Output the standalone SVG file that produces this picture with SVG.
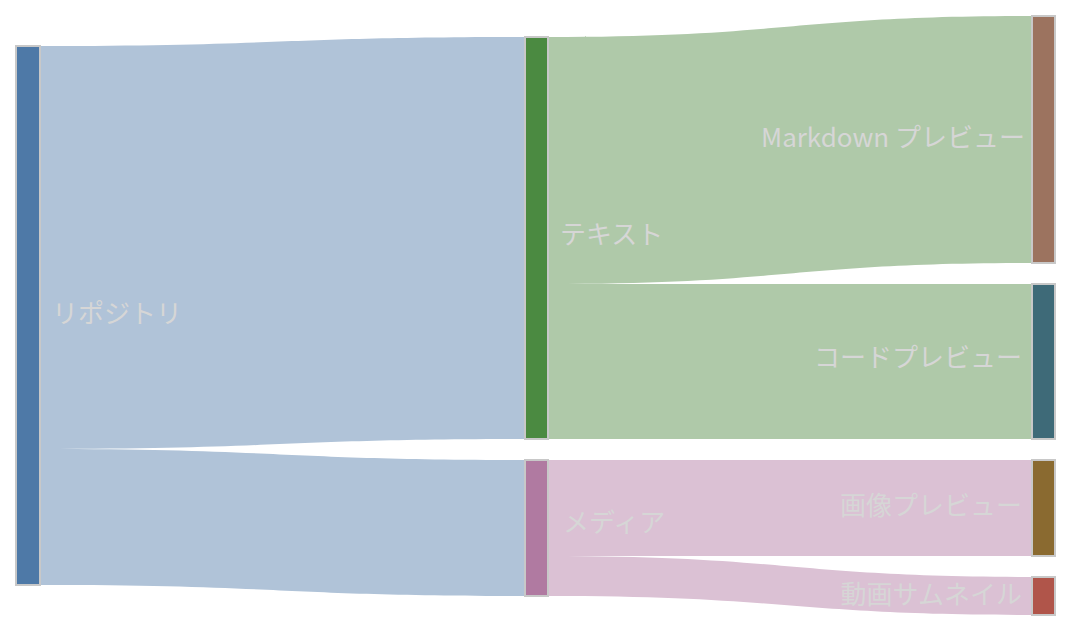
<svg xmlns="http://www.w3.org/2000/svg" width="1072" height="632" viewBox="0 0 1072 632">
<style>
.n{stroke:#c8c8c8;stroke-width:2}
.l{stroke:none}
text{font-family:"Noto Sans CJK JP","Noto Sans",sans-serif;font-size:26px;fill:#d6d6d6;dominant-baseline:middle}
.r{text-anchor:end}
</style>
<rect width="1072" height="632" fill="#fff"/>
<g id="links">
<path class="l" fill="#b0c3d8" d="M40,46 C282,46 282,37 525,37 L525,439 C282,439 282,449 40,449 Z"/>
<path class="l" fill="#b0c3d8" d="M40,449 C282,449 282,460 525,460 L525,596 C282,596 282,585 40,585 Z"/>
<path class="l" fill="#afc9a9" d="M548,37 C790,37 790,16 1032,16 L1032,263 C790,263 790,284 548,284 Z"/>
<path class="l" fill="#afc9a9" d="M548,284 L1032,284 L1032,439 L548,439 Z"/>
<path class="l" fill="#dbc1d4" d="M548,460 L1032,460 L1032,556 L548,556 Z"/>
<path class="l" fill="#dbc1d4" d="M548,556 C790,556 790,577 1032,577 L1032,615 C790,615 790,596 548,596 Z"/>
</g>
<g id="n-repo"><rect class="n" x="16" y="46" width="24" height="539" fill="#4e79a7"/><text x="52" y="316">リポジトリ</text></g>
<g id="n-text"><rect class="n" x="525" y="37" width="23" height="402" fill="#4b8a41"/><text x="560" y="237">テキスト</text></g>
<g id="n-media"><rect class="n" x="525" y="460" width="23" height="136" fill="#b07aa1"/><text x="563" y="525">メディア</text></g>
<g id="n-md"><rect class="n" x="1032" y="16" width="23" height="247" fill="#9c735f"/><text class="r" x="1025" y="140">Markdown プレビュー</text></g>
<g id="n-code"><rect class="n" x="1032" y="284" width="23" height="155" fill="#3e6a78"/><text class="r" x="1022" y="360">コードプレビュー</text></g>
<g id="n-img"><rect class="n" x="1032" y="460" width="23" height="96" fill="#8a6a30"/><text class="r" x="1022" y="508">画像プレビュー</text></g>
<g id="n-vid"><rect class="n" x="1032" y="577" width="23" height="38" fill="#b0554a"/><text class="r" x="1022" y="597">動画サムネイル</text></g>
</svg>
